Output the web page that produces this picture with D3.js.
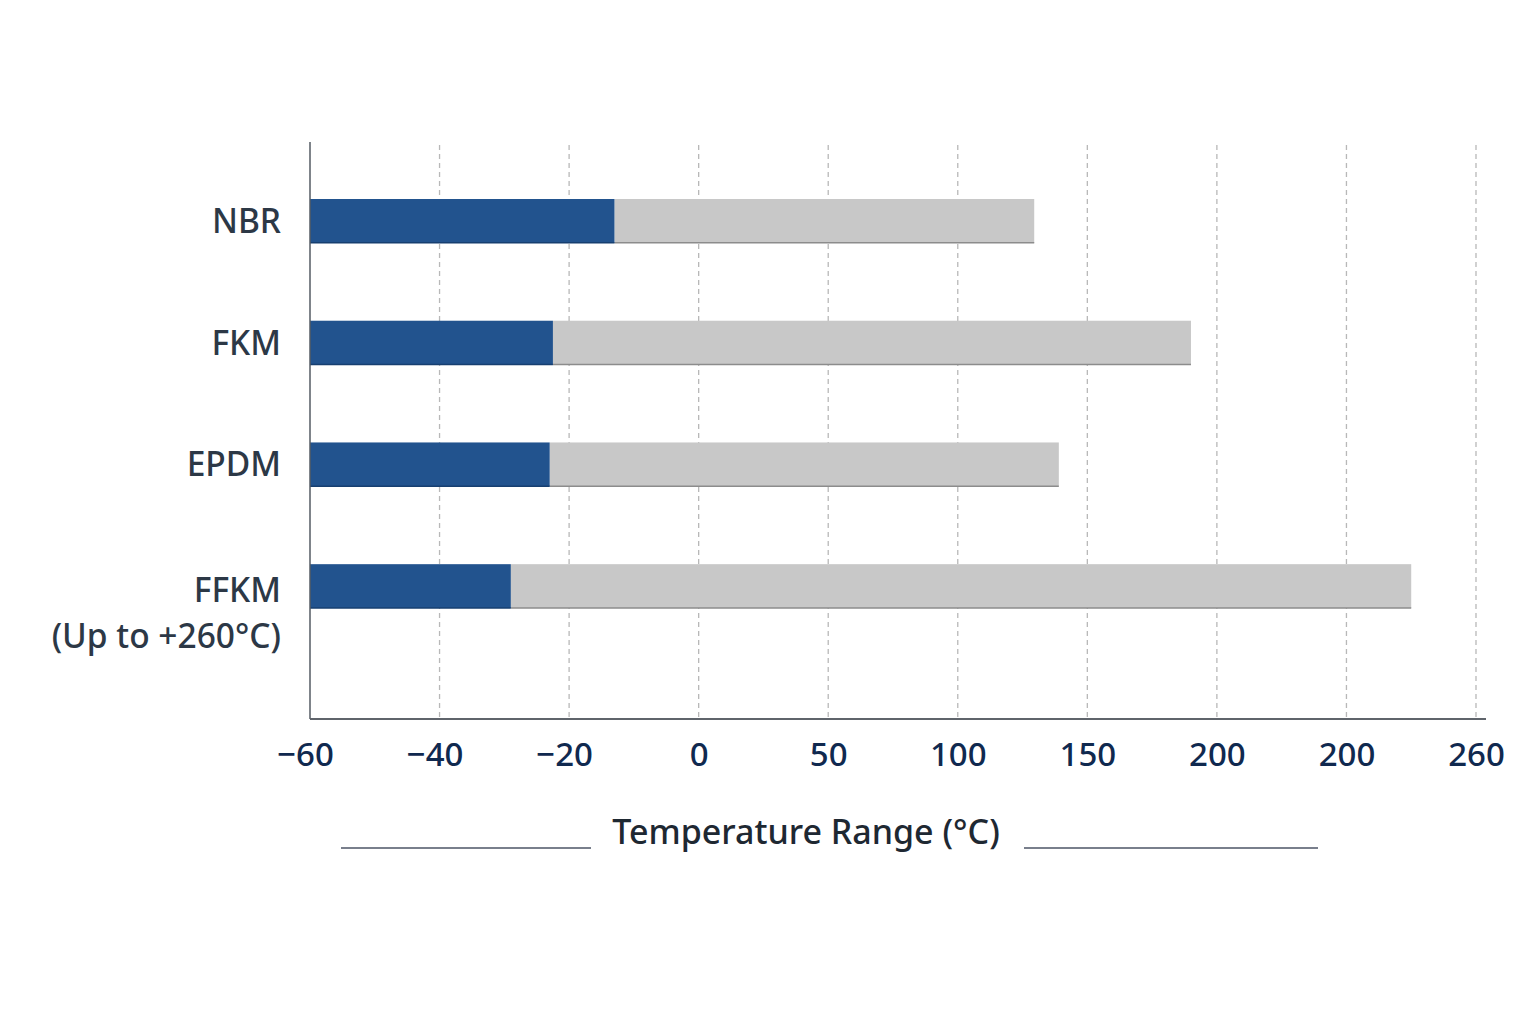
<!DOCTYPE html>
<html>
<head>
<meta charset="utf-8">
<script src="https://cdn.jsdelivr.net/npm/d3@7"></script>
<style>
  body { margin: 0; background: #fff; }
  svg { display: block; }
  text { font-family: "Noto Sans", "Open Sans", sans-serif; font-weight: 500; }
</style>
</head>
<body>
<div id="chart"></div>
<script>
// data
var materials = ["NBR", "FKM", "EPDM", "FFKM"];
var materialLines = [["NBR"], ["FKM"], ["EPDM"], ["FFKM", "(Up to +260°C)"]];
var lowTemp = [-13, -22.5, -23, -29];
var highTemp = [129.5, 190, 139, 245];
var tickValues = [-60, -40, -20, 0, 50, 100, 150, 200, 230, 260];
var tickLabels = ["−60", "−40", "−20", "0", "50", "100", "150", "200", "200", "260"];
var axisTitle = "Temperature Range (°C)";

var width = 1536, height = 1024;
var plotLeft = 310, plotRight = 1476, plotTop = 142, plotBottom = 719;

var svg = d3.select("#chart").append("svg")
  .attr("width", width)
  .attr("height", height);

// ticks are evenly spaced even though the values are not
var step = (plotRight - plotLeft) / (tickValues.length - 1);
var x = d3.scaleLinear()
  .domain(tickValues)
  .range(tickValues.map(function(d, i) { return plotLeft + i * step; }));

var y = d3.scaleBand()
  .domain(materials)
  .range([199, 608])
  .paddingInner(0.64)
  .paddingOuter(0);

/* dashed vertical grid */
svg.append("g").selectAll("line")
  .data(tickValues.slice(1)).enter()
  .append("line")
  .attr("x1", function(d) { return x(d); })
  .attr("x2", function(d) { return x(d); })
  .attr("y1", 145)
  .attr("y2", plotBottom)
  .attr("stroke", "#b8b8b8")
  .attr("stroke-width", 1.3)
  .attr("stroke-dasharray", "5,4");

var rows = materials.map(function(m, i) {
  return { name: m, lines: materialLines[i], low: lowTemp[i], high: highTemp[i] };
});

/* bars */
var bars = svg.append("g").selectAll("g")
  .data(rows).enter()
  .append("g");

bars.append("rect")
  .attr("x", function(d) { return x(d.low); })
  .attr("y", function(d) { return y(d.name); })
  .attr("width", function(d) { return x(d.high) - x(d.low); })
  .attr("height", y.bandwidth())
  .attr("fill", "#c8c8c8");

bars.append("line")
  .attr("x1", function(d) { return x(d.low); })
  .attr("x2", function(d) { return x(d.high); })
  .attr("y1", function(d) { return y(d.name) + y.bandwidth(); })
  .attr("y2", function(d) { return y(d.name) + y.bandwidth(); })
  .attr("stroke", "#8c8c8c")
  .attr("stroke-width", 1.5);

bars.append("rect")
  .attr("x", x(tickValues[0]))
  .attr("y", function(d) { return y(d.name); })
  .attr("width", function(d) { return x(d.low) - x(tickValues[0]); })
  .attr("height", y.bandwidth())
  .attr("fill", "#22538e");

bars.append("line")
  .attr("x1", x(tickValues[0]))
  .attr("x2", function(d) { return x(d.low); })
  .attr("y1", function(d) { return y(d.name) + y.bandwidth(); })
  .attr("y2", function(d) { return y(d.name) + y.bandwidth(); })
  .attr("stroke", "#173f70")
  .attr("stroke-width", 1.5);

/* axis lines */
svg.append("line")
  .attr("x1", plotLeft).attr("x2", plotLeft)
  .attr("y1", plotTop).attr("y2", plotBottom)
  .attr("stroke", "#555b63").attr("stroke-width", 1.5);

svg.append("line")
  .attr("x1", plotLeft).attr("x2", 1486)
  .attr("y1", plotBottom).attr("y2", plotBottom)
  .attr("stroke", "#5f646b").attr("stroke-width", 2);

/* x axis labels */
var xAxis = d3.axisBottom(x)
  .tickValues(tickValues)
  .tickSize(0)
  .tickPadding(0)
  .tickFormat(function(d, i) { return tickLabels[i]; });

var gx = svg.append("g")
  .attr("transform", "translate(0," + plotBottom + ")")
  .call(xAxis);
gx.select(".domain").remove();
gx.selectAll("text")
  .attr("y", 47)
  .attr("dy", null)
  .attr("dx", function(d, i) { return tickLabels[i].charAt(0) === "−" ? -5 : 0; })
  .style("font-size", "33px")
  .style("font-family", "'Noto Sans', 'Open Sans', sans-serif")
  .style("font-weight", 500)
  .attr("fill", "#10294f");

/* category labels */
var labels = svg.append("g").selectAll("text")
  .data(rows).enter()
  .append("text")
  .attr("text-anchor", "end")
  .attr("fill", "#2c3846")
  .style("font-size", "33.5px")
  .attr("y", function(d) {
    return y(d.name) + y.bandwidth() / 2 + 12 + (d.lines.length > 1 ? 4 : 0);
  });

labels.selectAll("tspan")
  .data(function(d) { return d.lines; }).enter()
  .append("tspan")
  .attr("x", 281)
  .attr("dy", function(d, i) { return i === 0 ? 0 : 46; })
  .text(function(d) { return d; });

/* axis title with rules on each side */
svg.append("text")
  .attr("x", 806)
  .attr("y", 844)
  .attr("text-anchor", "middle")
  .attr("fill", "#1e2832")
  .style("font-size", "34px")
  .text(axisTitle);

svg.append("g").selectAll("line")
  .data([[341, 591], [1024, 1318]]).enter()
  .append("line")
  .attr("x1", function(d) { return d[0]; })
  .attr("x2", function(d) { return d[1]; })
  .attr("y1", 848)
  .attr("y2", 848)
  .attr("stroke", "#4c5566")
  .attr("stroke-width", 1.5);
</script>
</body>
</html>
